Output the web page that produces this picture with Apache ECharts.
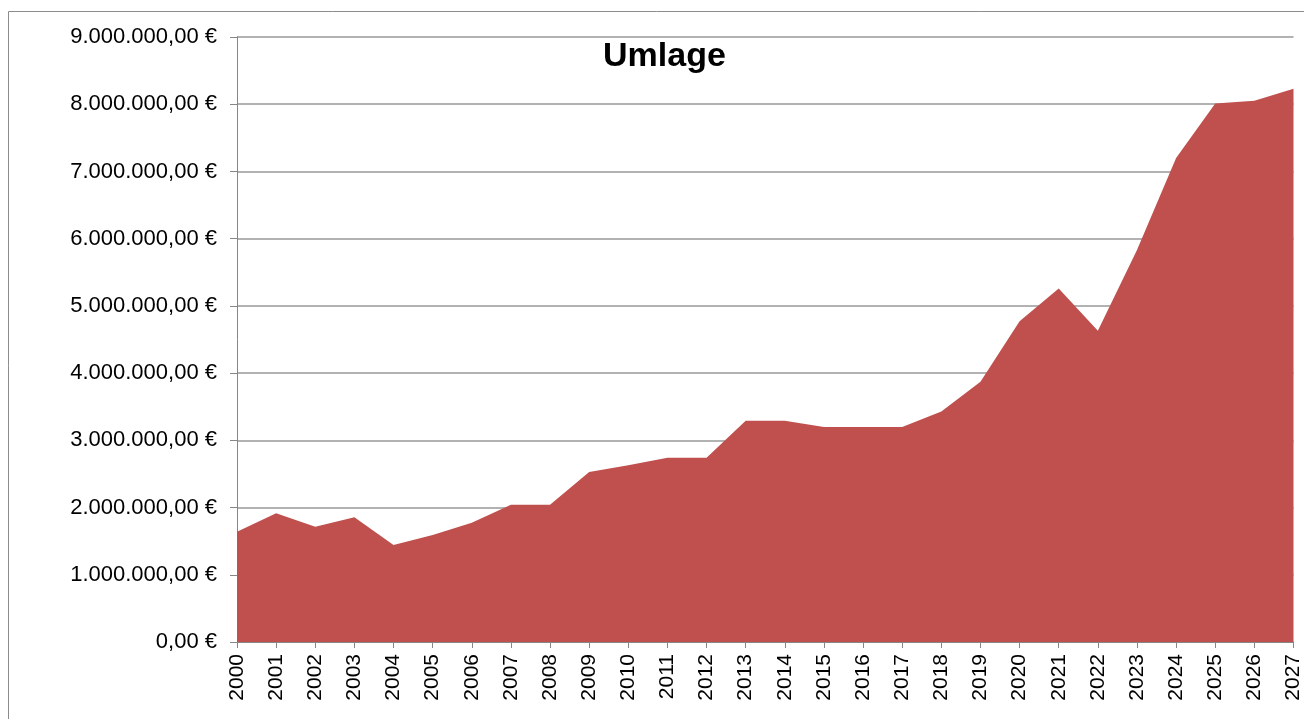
<!DOCTYPE html>
<html>
<head>
<meta charset="utf-8">
<script src="https://cdn.jsdelivr.net/npm/echarts@6/dist/echarts.min.js"></script>
<style>html,body{margin:0;padding:0;background:#fff;}#c{width:1304px;height:719px;}</style>
</head>
<body>
<div id="c"></div>
<script>
const years = ['2000','2001','2002','2003','2004','2005','2006','2007','2008','2009','2010','2011','2012','2013','2014','2015','2016','2017','2018','2019','2020','2021','2022','2023','2024','2025','2026','2027'];
const umlage = [1640000,1915000,1716000,1855000,1443000,1592000,1775000,2043000,2043000,2530000,2630000,2740000,2740000,3290000,3290000,3200000,3200000,3200000,3430000,3870000,4770000,5260000,4630000,5830000,7200000,8010000,8050000,8230000];
const titleText = 'Umlage';

function fmt(v){
  const s = Math.round(v).toString().replace(/\B(?=(\d{3})+(?!\d))/g,'.');
  return s + ',00 €';
}
const chart = echarts.init(document.getElementById('c'));
chart.setOption({
  animation:false,
  backgroundColor:'#fff',
  graphic:[{type:'rect',shape:{x:8.5,y:11.5,width:1310,height:720},style:{fill:'none',stroke:'#8c8c8c',lineWidth:1},silent:true,z:-1}],
  title:{text:titleText,left:598,top:35,textStyle:{fontFamily:'Liberation Sans',fontWeight:'bold',fontSize:34,color:'#000'}},
  grid:{left:237,right:4,top:37,bottom:77,containLabel:false},
  xAxis:{type:'category',data:years,boundaryGap:false,
    axisLine:{lineStyle:{color:'#868686',width:1}},
    axisTick:{show:true,inside:false,length:6,alignWithLabel:true,lineStyle:{color:'#868686'}},
    axisLabel:{rotate:90,interval:0,margin:12,fontFamily:'Liberation Sans',fontSize:21,color:'#000'},
    splitLine:{show:false}},
  yAxis:{type:'value',min:0,max:9000000,interval:1000000,
    axisLine:{show:true,lineStyle:{color:'#868686',width:1}},
    axisTick:{show:true,length:7,lineStyle:{color:'#868686'}},
    axisLabel:{formatter:fmt,margin:20,fontFamily:'Liberation Sans',fontSize:22,color:'#000'},
    splitLine:{show:true,lineStyle:{color:'#999999',width:1.5}}},
  series:[{type:'line',data:umlage,symbol:'none',lineStyle:{width:0},areaStyle:{color:'#C0504D',opacity:1},itemStyle:{color:'#C0504D'}}]
});
</script>
</body>
</html>
